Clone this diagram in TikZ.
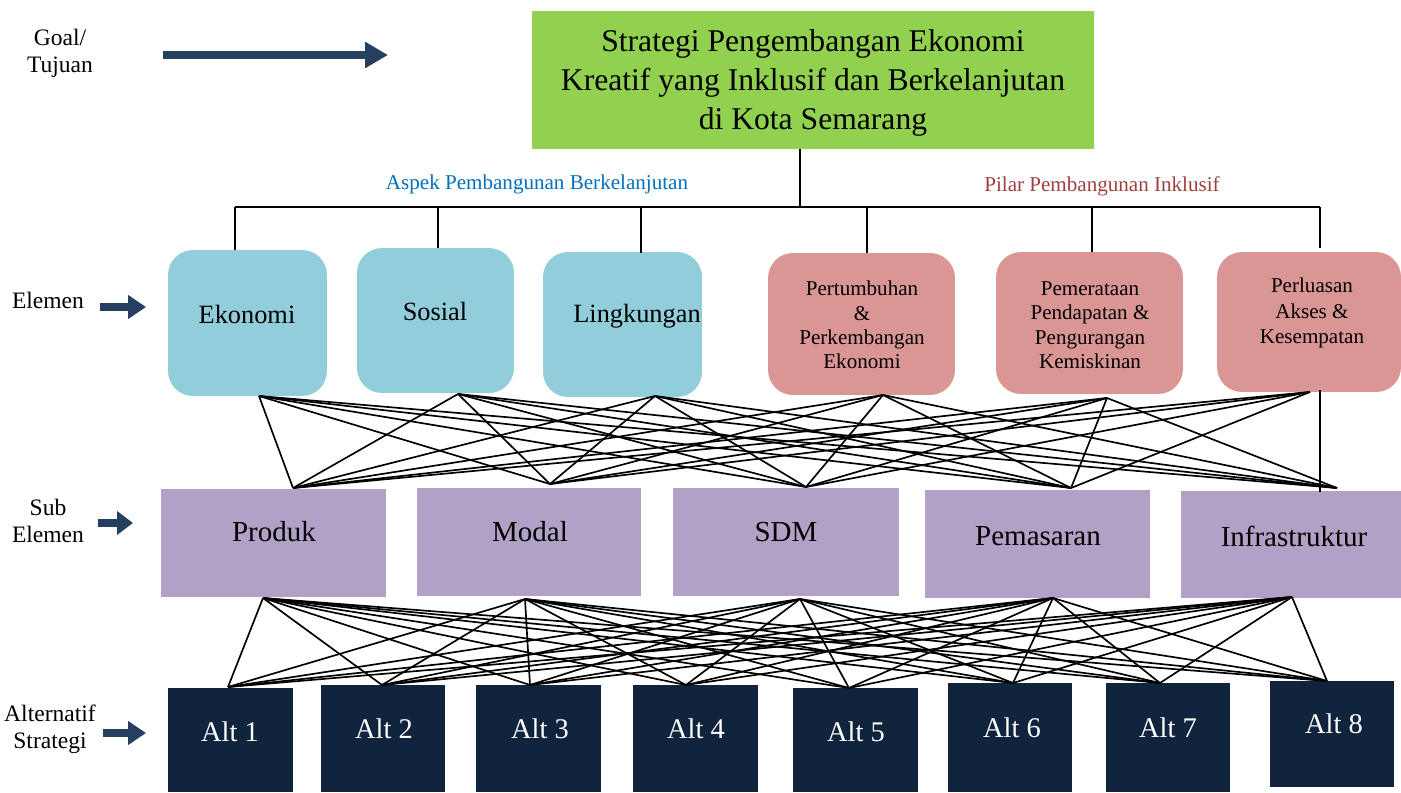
\documentclass[tikz,border=0pt]{standalone}
\usepackage{fontspec}
\setmainfont{Liberation Serif}
\usetikzlibrary{arrows.meta}
\definecolor{goalgreen}{HTML}{92D050}
\definecolor{elblue}{HTML}{92CDDC}
\definecolor{elpink}{HTML}{DA9694}
\definecolor{subpurple}{HTML}{B2A1C7}
\definecolor{altnavy}{HTML}{10243E}
\definecolor{arrnavy}{HTML}{243F60}
\definecolor{lblblue}{HTML}{0070C0}
\definecolor{lblred}{HTML}{A0403E}
\tikzset{
  goalbox/.style={fill=goalgreen, draw=none, minimum width=11.24cm, minimum height=2.76cm, inner sep=0pt},
  elbluebox/.style={fill=elblue, draw=none, rounded corners=0.5cm, inner sep=0pt},
  elpinkbox/.style={fill=elpink, draw=none, rounded corners=0.5cm, inner sep=0pt},
  subbox/.style={fill=subpurple, draw=none, inner sep=0pt},
  altbox/.style={fill=altnavy, draw=none, inner sep=0pt, minimum width=2.5cm},
  txt/.style={inner sep=0pt, align=center},
  conn/.style={draw=black, line width=0.95pt},
  tree/.style={draw=black, line width=0.9pt},
  navarrow/.style={draw=arrnavy, line width=4pt, -{Triangle[length=0.46cm, width=0.5cm]}},
}
\begin{document}
\begin{tikzpicture}[x=0.02cm, y=-0.02cm]
\useasboundingbox (0,0) rectangle (1401,792);

% goal
\node[goalbox] (goal) at (813,80) {};
\node[txt, font=\fontsize{18}{22}\selectfont] (goaltxt) at (813,83)
  {Strategi Pengembangan Ekonomi\\Kreatif yang Inklusif dan Berkelanjutan\\di Kota Semarang};

% element boxes
\node[elbluebox, minimum width=3.18cm, minimum height=2.92cm] (el1) at (247.5,323) {};
\node[elbluebox, minimum width=3.14cm, minimum height=2.90cm] (el2) at (435.5,320.5) {};
\node[elbluebox, minimum width=3.18cm, minimum height=2.90cm] (el3) at (622.5,324.5) {};
\node[elpinkbox, minimum width=3.74cm, minimum height=2.84cm] (el4) at (861.5,324) {};
\node[elpinkbox, minimum width=3.74cm, minimum height=2.84cm] (el5) at (1089.5,323) {};
\node[elpinkbox, minimum width=3.68cm, minimum height=2.80cm] (el6) at (1309,322) {};

\node[txt, font=\fontsize{15}{18}\selectfont] (el1t) at (247,314) {Ekonomi};
\node[txt, font=\fontsize{15}{18}\selectfont] (el2t) at (435,311) {Sosial};
\node[txt, font=\fontsize{15}{18}\selectfont] (el3t) at (637,316) {Lingkungan};
\node[txt, font=\fontsize{12}{13.9}\selectfont] (el4t) at (862,325) {Pertumbuhan\\\&\\Perkembangan\\Ekonomi};
\node[txt, font=\fontsize{12}{13.9}\selectfont] (el5t) at (1090,325) {Pemerataan\\Pendapatan \&\\Pengurangan\\Kemiskinan};
\node[txt, font=\fontsize{12}{14.5}\selectfont] (el6t) at (1312,313) {Perluasan\\Akses \&\\Kesempatan};

% sub element boxes
\node[subbox, minimum width=4.5cm, minimum height=2.16cm] (sb1) at (273.5,543) {};
\node[subbox, minimum width=4.48cm, minimum height=2.16cm] (sb2) at (529,542) {};
\node[subbox, minimum width=4.52cm, minimum height=2.16cm] (sb3) at (786,542) {};
\node[subbox, minimum width=4.5cm, minimum height=2.16cm] (sb4) at (1037.5,544) {};
\node[subbox, minimum width=4.4cm, minimum height=2.14cm] (sb5) at (1291,544.5) {};

\node[txt, font=\fontsize{16.5}{20}\selectfont] (sb1t) at (274,532) {Produk};
\node[txt, font=\fontsize{16.5}{20}\selectfont] (sb2t) at (530,532) {Modal};
\node[txt, font=\fontsize{16.5}{20}\selectfont] (sb3t) at (786,532) {SDM};
\node[txt, font=\fontsize{16.5}{20}\selectfont] (sb4t) at (1038,536) {Pemasaran};
\node[txt, font=\fontsize{16.5}{20}\selectfont] (sb5t) at (1294,536) {Infrastruktur};

% alternative boxes
\node[altbox, minimum height=2.08cm] (al1) at (230.5,740) {};
\node[altbox, minimum height=2.14cm] (al2) at (383,738.5) {};
\node[altbox, minimum height=2.14cm] (al3) at (538.5,738.5) {};
\node[altbox, minimum height=2.14cm] (al4) at (695.5,738.5) {};
\node[altbox, minimum height=2.08cm] (al5) at (855.5,740) {};
\node[altbox, minimum height=2.18cm] (al6) at (1010,737.5) {};
\node[altbox, minimum height=2.18cm] (al7) at (1168,737.5) {};
\node[altbox, minimum height=2.12cm] (al8) at (1332,734) {};

\foreach \i/\x/\y in {1/230/732,2/384/729,3/540/729,4/696/729,5/856/732,6/1012/728,7/1168/728,8/1334/724}
  \node[txt, text=white, font=\fontsize{16.2}{19}\selectfont] (al\i t) at (\x,\y) {Alt \i};

% tree from goal
\coordinate (gb) at (800,149);
\coordinate (gh) at (800,207);
\coordinate (hl) at (235,207);
\coordinate (hr) at (1320,207);
\draw[tree] (gb) -- (gh);
\draw[tree] (hl) -- (hr);
\foreach \n/\x/\y in {1/235/250,2/438/248,3/641/253,4/867/253,5/1092/252,6/1320/248}{
  \coordinate (ht\n) at (\x,207);
  \coordinate (hb\n) at (\x,\y);
  \draw[tree] (ht\n) -- (hb\n);
}

\node[txt, text=lblblue, font=\fontsize{12}{14}\selectfont] (aspek) at (537,184) {Aspek Pembangunan Berkelanjutan};
\node[txt, text=lblred, font=\fontsize{12}{14}\selectfont] (pilar) at (1102,186) {Pilar Pembangunan Inklusif};

% element -> sub element connectors
\coordinate (e1) at (259,396);
\coordinate (e2) at (458,394);
\coordinate (e3) at (655,396);
\coordinate (e4) at (883,395);
\coordinate (e5) at (1107,398);
\coordinate (e6) at (1310,392);
\coordinate (e6v) at (1320,390);
\coordinate (s1) at (293,488);
\coordinate (s2) at (550,484);
\coordinate (s3) at (806,487);
\coordinate (s4) at (1071,488);
\coordinate (s5) at (1337,488);
\coordinate (s5v) at (1320,492);
\foreach \e in {e1,e2,e3,e4,e5}
  \foreach \s in {s1,s2,s3,s4,s5}
    \draw[conn] (\e) -- (\s);
\foreach \s in {s1,s2,s3,s4}
  \draw[conn] (e6) -- (\s);
\draw[conn] (e6v) -- (s5v);

% sub element -> alternatives connectors
\coordinate (b1) at (263,598);
\coordinate (b2) at (525,599);
\coordinate (b3) at (800,599);
\coordinate (b4) at (1053,598);
\coordinate (b5) at (1292,597);
\coordinate (a1) at (228,687);
\coordinate (a2) at (382,685);
\coordinate (a3) at (530,685);
\coordinate (a4) at (686,685);
\coordinate (a5) at (849,688);
\coordinate (a6) at (1013,683);
\coordinate (a7) at (1160,683);
\coordinate (a8) at (1327,681);
\foreach \b in {b1,b2,b3,b4,b5}
  \foreach \a in {a1,a2,a3,a4,a5,a6,a7,a8}
    \draw[conn] (\b) -- (\a);

% left labels and arrows
\node[txt, font=\fontsize{13.4}{15.5}\selectfont] (lgoal) at (60,53) {Goal/\\Tujuan};
\node[txt, font=\fontsize{13.4}{15.5}\selectfont] (lel) at (48,300) {Elemen};
\node[txt, font=\fontsize{13.4}{15.5}\selectfont] (lsub) at (48,521) {Sub\\Elemen};
\node[txt, font=\fontsize{13.4}{15.5}\selectfont] (lalt) at (50,729) {Alternatif\\Strategi};

\coordinate (ga0) at (163,55);
\coordinate (ga1) at (388,55);
\coordinate (ea0) at (100,307);
\coordinate (ea1) at (146,307);
\coordinate (sa0) at (98,523);
\coordinate (sa1) at (133,523);
\coordinate (aa0) at (103,733);
\coordinate (aa1) at (146,733);
\draw[navarrow] (ga0) -- (ga1);
\draw[navarrow, -{Triangle[length=0.36cm, width=0.46cm]}] (ea0) -- (ea1);
\draw[navarrow, -{Triangle[length=0.32cm, width=0.46cm]}] (sa0) -- (sa1);
\draw[navarrow, -{Triangle[length=0.36cm, width=0.46cm]}] (aa0) -- (aa1);
\end{tikzpicture}
\end{document}
